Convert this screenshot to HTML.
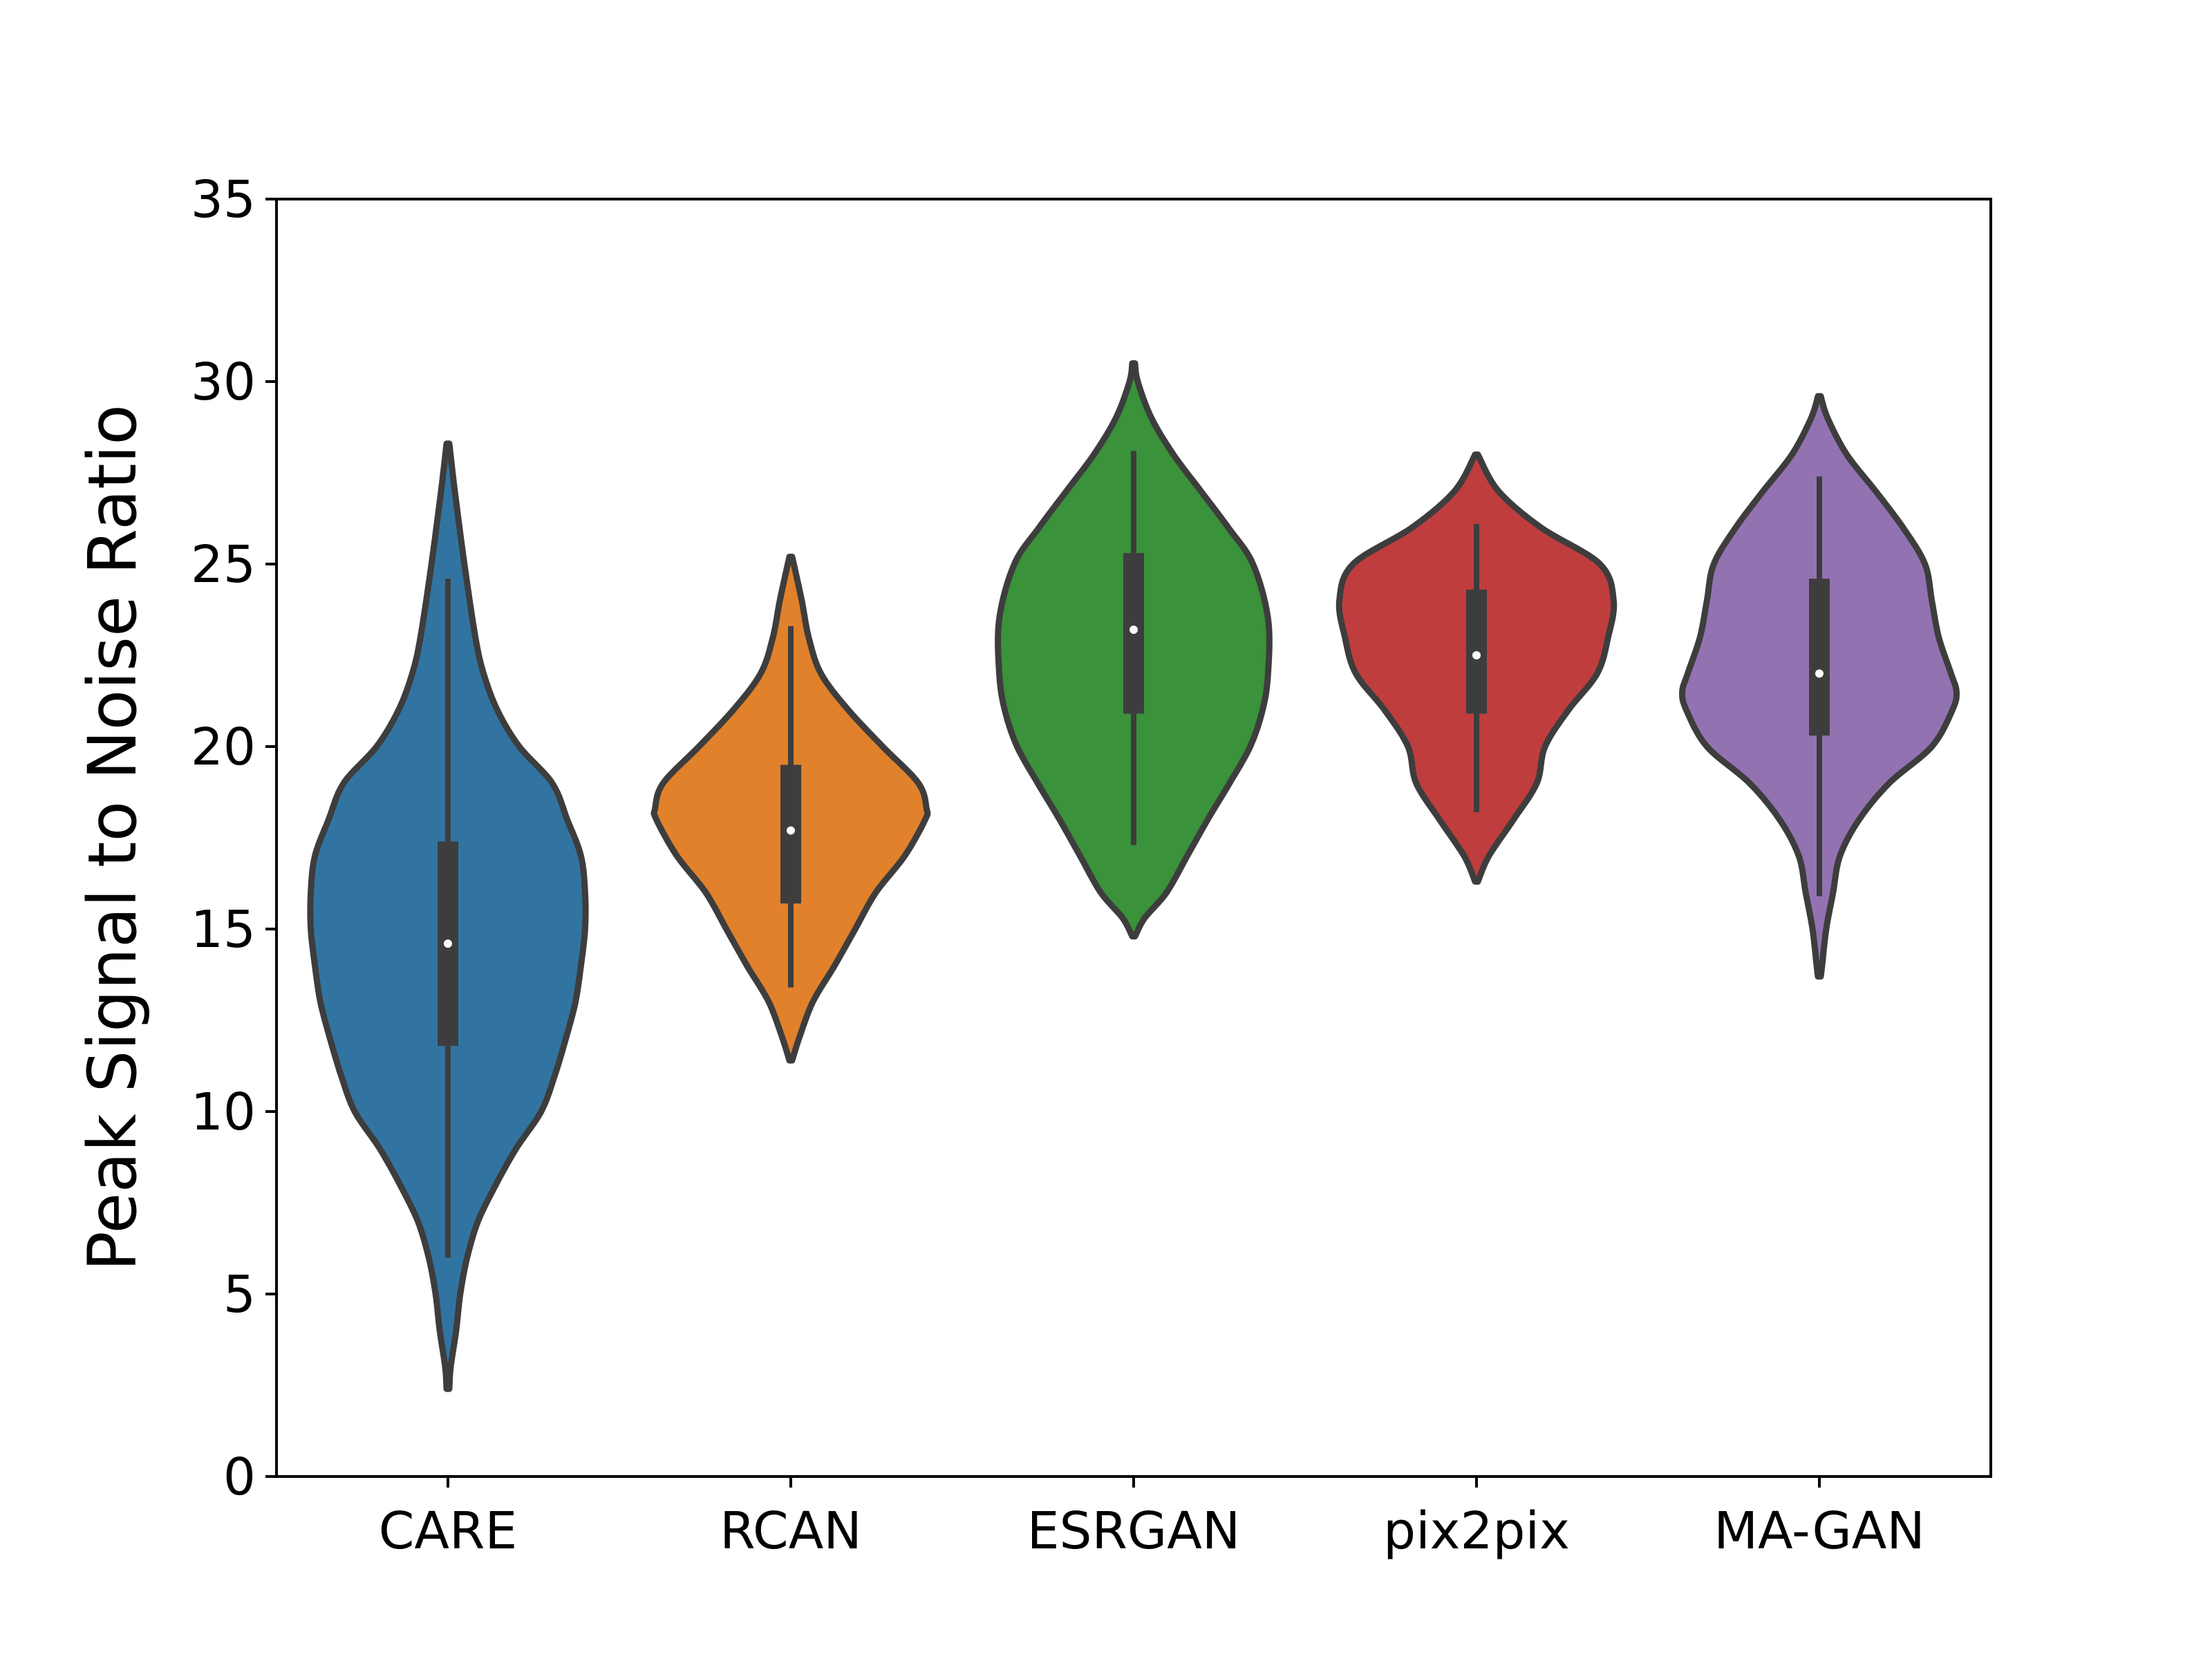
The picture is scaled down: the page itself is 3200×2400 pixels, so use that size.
<!DOCTYPE html>
<html><head><meta charset="utf-8"><style>
html,body{margin:0;padding:0;background:#fff;}
svg{display:block;}
text{font-family:"DejaVu Sans","Liberation Sans",sans-serif;fill:#000;}
</style></head><body>
<svg id="chart" width="3200" height="2400" viewBox="0 0 3200 2400" xmlns="http://www.w3.org/2000/svg">
<rect x="0" y="0" width="3200" height="2400" fill="#fff"/>
<g id="violins"></g>
<g id="axes"></g>
</svg>
<script>
const categories = ["CARE","RCAN","ESRGAN","pix2pix","MA-GAN"];
const colors = ["#3274a1","#e1812c","#3a923a","#c03d3e","#9372b2"];
const yTicks = [0,5,10,15,20,25,30,35];
// violin profiles: [value, relative half-width]
const careProfile = [[28.3,0.01],[27,0.05],[25,0.12],[23,0.2],[22,0.26],[21,0.36],[20,0.52],[19,0.76],[18,0.87],[17,0.97],[16,1.0],[15,1.0],[14,0.97],[13,0.93],[12,0.86],[11,0.78],[10,0.68],[9,0.5],[8,0.35],[7,0.22],[6,0.14],[5,0.09],[4,0.06],[3,0.02],[2.4,0.01]];
const rcanProfile = [[25.2,0.01],[24,0.08],[23,0.13],[22,0.22],[21,0.42],[20,0.67],[19,0.93],[18.3,0.99],[18,0.98],[17,0.83],[16,0.62],[15,0.47],[14,0.32],[13,0.16],[12,0.06],[11.4,0.01]];
const esrganProfile = [[30.5,0.01],[30,0.03],[29,0.13],[28,0.29],[27,0.49],[26,0.69],[25,0.87],[23.5,0.98],[22,0.98],[21,0.94],[20,0.85],[19,0.7],[18,0.54],[17,0.39],[16,0.24],[15.3,0.08],[14.8,0.01]];
const pix2pixProfile = [[28,0.01],[27,0.16],[26,0.47],[25,0.9],[24,1.0],[23,0.96],[22,0.88],[21,0.67],[20,0.5],[19,0.44],[18,0.27],[17,0.09],[16.3,0.01]];
const maganProfile = [[29.6,0.01],[29,0.06],[28,0.2],[27,0.41],[26,0.61],[25,0.77],[24,0.82],[23,0.87],[22,0.96],[21.5,1.0],[21,0.97],[20,0.82],[19,0.51],[18,0.29],[17,0.15],[16,0.1],[15,0.05],[14,0.02],[13.7,0.01]];
const profiles = [careProfile, rcanProfile, esrganProfile, pix2pixProfile, maganProfile];
const q1 = [11.8,15.7,20.9,20.9,20.3];
const q3 = [17.4,19.5,25.3,24.3,24.6];
const medians = [14.6,17.7,23.2,22.5,22.0];
const whiskerLow = [6.0,13.4,17.3,18.2,15.9];
const whiskerHigh = [24.6,23.3,28.1,26.1,27.4];

const L=400,R=2880,T=288,B=2136,Y0=0,Y1=35;
const band=(R-L)/categories.length, maxHalf=band*0.4;
function y(v){return B-(v-Y0)/(Y1-Y0)*(B-T);}
function x(i){return L+(i+0.5)*band;}
const NS="http://www.w3.org/2000/svg";
function mk(tag,attrs,parent){const e=document.createElementNS(NS,tag);for(const k in attrs)e.setAttribute(k,attrs[k]);parent.appendChild(e);return e;}

function smooth(pts){
  let d="M"+pts[0][0]+","+pts[0][1];
  for(let i=0;i<pts.length-1;i++){
    const p0=pts[Math.max(0,i-1)],p1=pts[i],p2=pts[i+1],p3=pts[Math.min(pts.length-1,i+2)];
    const c1=[p1[0]+(p2[0]-p0[0])/6,p1[1]+(p2[1]-p0[1])/6];
    const c2=[p2[0]-(p3[0]-p1[0])/6,p2[1]-(p3[1]-p1[1])/6];
    d+=" C"+c1[0]+","+c1[1]+" "+c2[0]+","+c2[1]+" "+p2[0]+","+p2[1];
  }
  return d;
}
const vg=document.getElementById('violins');
categories.forEach((c,i)=>{
  const cx=x(i), prof=profiles[i];
  const right=prof.map(p=>[cx+p[1]*maxHalf,y(p[0])]);
  const left=prof.slice().reverse().map(p=>[cx-p[1]*maxHalf,y(p[0])]);
  const d=smooth(right)+" L"+left[0][0]+","+left[0][1]+smooth(left).replace(/^M[^ ]+/,"")+" Z";
  const path=mk('path',{d:d,fill:colors[i],stroke:'#3d3d3d','stroke-width':9,'stroke-linejoin':'round'},vg);
  
  
  const wl=mk('line',{x1:cx,x2:cx,y1:y(whiskerLow[i]),y2:y(whiskerHigh[i]),stroke:'#3d3d3d','stroke-width':8},vg);
  
  
  const bx=mk('rect',{x:cx-15,width:30,y:y(q3[i]),height:y(q1[i])-y(q3[i]),fill:'#3d3d3d'},vg);
  
  
  const md=mk('circle',{cx:cx,cy:y(medians[i]),r:6,fill:'#fff'},vg);
  
  
});
const ag=document.getElementById('axes');
const frame=mk('rect',{x:L,y:T,width:R-L,height:B-T,fill:'none',stroke:'#000','stroke-width':4},ag);


yTicks.forEach(t=>{
  const tk=mk('line',{x1:L-16,x2:L,y1:y(t),y2:y(t),stroke:'#000','stroke-width':4},ag);
  
  
  const tx=mk('text',{x:L-30,y:y(t)+26,'text-anchor':'end','font-size':74},ag);
  tx.textContent=t;
  
  
});
categories.forEach((c,i)=>{
  const tk=mk('line',{x1:x(i),x2:x(i),y1:B,y2:B+16,stroke:'#000','stroke-width':4},ag);
  
  
  const tx=mk('text',{x:x(i),y:B+104,'text-anchor':'middle','font-size':74},ag);
  tx.textContent=c;
  
  
});
const yl=mk('text',{x:0,y:0,'text-anchor':'middle','font-size':96,transform:'translate(196,1212) rotate(-90)'},ag);
yl.textContent="Peak Signal to Noise Ratio";


</script>
</body></html>
